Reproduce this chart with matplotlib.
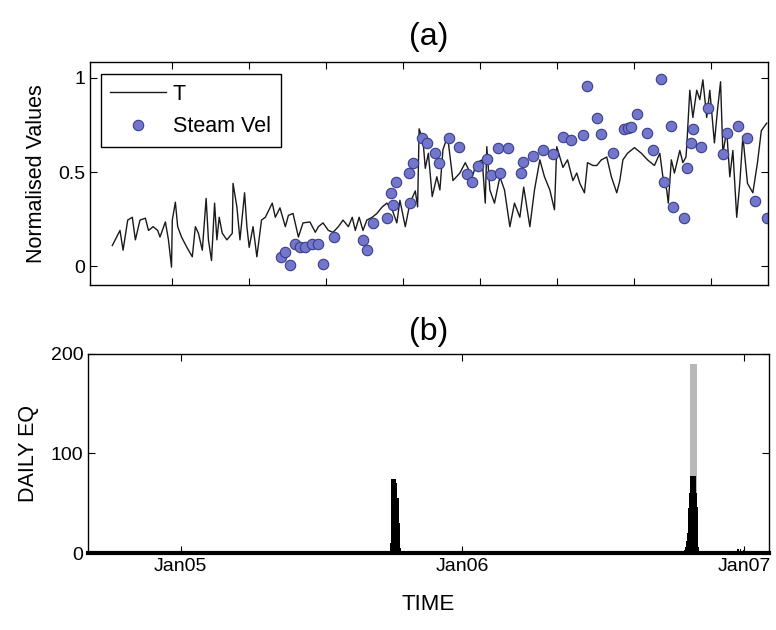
import numpy as np
import matplotlib.pyplot as plt

plt.rcParams['font.family'] = ['Liberation Sans', 'DejaVu Sans']

# days since 2005-01-01
t_days = [-91, -81, -77, -71, -65, -61, -55, -48, -44, -38, -32, -29, -22, -18, -14, -13,
          -9, -6, -1, 6, 13, 17, 21, 26, 31, 34, 38, 42, 45, 48, 52, 58, 65, 66, 71, 75,
          81, 84, 87, 92, 97, 103, 108, 114, 117, 121, 127, 134, 138, 144, 151, 157, 166,
          173, 177, 183, 190, 196, 203, 209, 216, 221, 225, 230, 235, 240, 247, 253, 260,
          266, 273, 279, 283, 290, 296, 303, 306, 308, 313, 316, 320, 325, 331, 335, 339,
          345, 352, 361, 368, 377, 383, 390, 394, 396, 400, 406, 413, 419, 426, 432, 439,
          444, 452, 458, 465, 471, 478, 484, 487, 495, 501, 508, 513, 517, 523, 527, 534,
          539, 545, 552, 558, 565, 569, 573, 579, 588, 597, 605, 614, 621, 625, 630, 632,
          636, 640, 647, 651, 655, 656, 660, 664, 669, 673, 677, 682, 686, 692, 696, 700,
          703, 708, 712, 716, 721, 725, 729, 735, 742, 748, 753, 760]
t_vals = [0.11, 0.19, 0.085, 0.245, 0.26, 0.14, 0.245, 0.255, 0.19, 0.21, 0.19, 0.155, 0.235,
          0.14, -0.005, 0.245, 0.34, 0.21, 0.155, 0.10, 0.05, 0.21, 0.175, 0.085, 0.36, 0.14,
          0.03, 0.335, 0.14, 0.26, 0.175, 0.14, 0.175, 0.44, 0.315, 0.14, 0.39, 0.21, 0.10,
          0.21, 0.05, 0.245, 0.26, 0.31, 0.335, 0.26, 0.31, 0.21, 0.27, 0.28, 0.155, 0.23,
          0.235, 0.18, 0.21, 0.23, 0.19, 0.18, 0.21, 0.245, 0.21, 0.26, 0.19, 0.26, 0.19,
          0.245, 0.26, 0.28, 0.315, 0.335, 0.30, 0.23, 0.35, 0.21, 0.335, 0.40, 0.315, 0.73,
          0.67, 0.52, 0.60, 0.37, 0.475, 0.405, 0.62, 0.69, 0.455, 0.495, 0.55, 0.475, 0.55,
          0.565, 0.335, 0.635, 0.405, 0.335, 0.475, 0.405, 0.21, 0.335, 0.26, 0.42, 0.21,
          0.405, 0.565, 0.475, 0.405, 0.30, 0.635, 0.525, 0.565, 0.455, 0.495, 0.44, 0.39,
          0.55, 0.535, 0.535, 0.565, 0.58, 0.475, 0.39, 0.455, 0.565, 0.60, 0.63, 0.60,
          0.565, 0.535, 0.60, 0.475, 0.405, 0.335, 0.565, 0.495, 0.615, 0.55, 0.58, 0.635,
          0.935, 0.79, 0.935, 0.885, 0.99, 0.79, 0.935, 0.655, 0.83, 0.98, 0.60, 0.72, 0.475,
          0.615, 0.26, 0.44, 0.69, 0.44, 0.39, 0.55, 0.72, 0.76]

sv_days = [129, 134, 140, 147, 153, 160, 169, 177, 183, 197, 235, 240, 248, 266, 274, 271,
           278, 296, 295, 300, 312, 318, 329, 334, 347, 360, 370, 377, 384, 396, 401, 413,
           410, 423, 440, 443, 456, 469, 482, 495, 505, 521, 526, 539, 545, 560, 574, 579,
           584, 591, 604, 612, 623, 626, 635, 638, 653, 657, 662, 664, 675, 684, 703, 709,
           723, 734, 745, 760]
sv_vals = [0.05, 0.075, 0.005, 0.12, 0.10, 0.10, 0.12, 0.12, 0.01, 0.155, 0.14, 0.085, 0.23,
           0.255, 0.325, 0.39, 0.45, 0.335, 0.495, 0.55, 0.68, 0.655, 0.60, 0.55, 0.68, 0.635,
           0.49, 0.45, 0.53, 0.57, 0.485, 0.495, 0.63, 0.63, 0.495, 0.555, 0.585, 0.62, 0.595,
           0.685, 0.67, 0.695, 0.96, 0.785, 0.705, 0.60, 0.73, 0.735, 0.74, 0.81, 0.71, 0.62,
           0.995, 0.45, 0.745, 0.315, 0.255, 0.52, 0.655, 0.73, 0.635, 0.84, 0.595, 0.71,
           0.745, 0.68, 0.345, 0.255]

# daily earthquake counts
eq_days = [0, 79, 147, 156, 234, 263, 264, 272, 273, 274, 275, 276, 277, 278, 279, 280, 281,
           282, 283, 284, 285, 365, 396, 422, 461, 623, 653, 654, 655, 656, 657, 658, 659, 660,
           661, 662, 663, 664, 665, 666, 667, 668, 669, 670, 671, 675, 721, 722, 725, 729]
eq_black = [2, 2, 2, 2, 2, 1.5, 2, 10, 74, 74, 74, 74, 74, 74, 74, 70, 55, 55, 30, 16, 5, 2, 2,
            2.5, 2, 2, 3, 6, 12, 20, 30, 45, 60, 77, 77, 77, 77, 77, 77, 77, 77, 60, 46, 20,
            6, 2, 4, 4, 4, 3]
gray_days = [660, 661, 662, 663, 664, 665, 666, 667, 668]
gray_vals = [190, 190, 190, 190, 190, 190, 190, 190, 190]

top_ticks = [-13, 87, 187, 287, 387, 487, 587, 687]
year_ticks = [0, 365, 730]
year_labels = ['Jan05', 'Jan06', 'Jan07']
xlim = (-120, 762)

fig = plt.figure(figsize=(7.76, 6.30), dpi=100)
ax1 = fig.add_axes([0.116, 0.5476, 0.874, 0.354])
ax2 = fig.add_axes([0.1134, 0.1222, 0.8776, 0.316])

ax1.plot(t_days, t_vals, color='#1a1a1a', linewidth=1.0, label='T')
ax1.plot(sv_days, sv_vals, linestyle='none', marker='o', markersize=7.5,
         markerfacecolor='#7377cc', markeredgecolor='#3a3d8a', markeredgewidth=0.8,
         label='Steam Vel')
ax1.set_xlim(*xlim)
ax1.set_ylim(-0.1, 1.085)
ax1.set_yticks([0, 0.5, 1])
ax1.set_yticklabels(['0', '0.5', '1'])
ax1.set_xticks(top_ticks)
ax1.set_xticklabels([])
ax1.set_ylabel('Normalised Values', fontsize=15.5, labelpad=8)
ax1.set_title('(a)', fontsize=23, pad=12)
leg = ax1.legend(loc='upper left', fontsize=15.5, frameon=True, fancybox=False,
                 edgecolor='black', framealpha=1, handlelength=2.6, handletextpad=0.3,
                 borderpad=0.45, labelspacing=0.55, bbox_to_anchor=(0.0, 0.995))
leg.get_frame().set_linewidth(1.0)

ax2.bar(gray_days, gray_vals, width=1.0, color='#b8b8b8', linewidth=0)
ax2.bar(eq_days, eq_black, width=1.0, color='black', linewidth=0)
ax2.set_xlim(*xlim)
ax2.set_ylim(0, 200)
ax2.set_yticks([0, 100, 200])
ax2.set_xticks(year_ticks)
ax2.set_xticklabels(year_labels)
ax2.set_ylabel('DAILY EQ', fontsize=15.5, labelpad=8)
ax2.set_xlabel('TIME', fontsize=16, labelpad=14)
ax2.set_title('(b)', fontsize=23, pad=10)
ax2.spines['bottom'].set_linewidth(3)

for ax in (ax1, ax2):
    ax.tick_params(direction='in', top=True, right=True, labelsize=14, length=5)
    for s in ax.spines.values():
        if s is not ax2.spines['bottom']:
            s.set_linewidth(1.0)

fig.savefig('out.png', dpi=100)
